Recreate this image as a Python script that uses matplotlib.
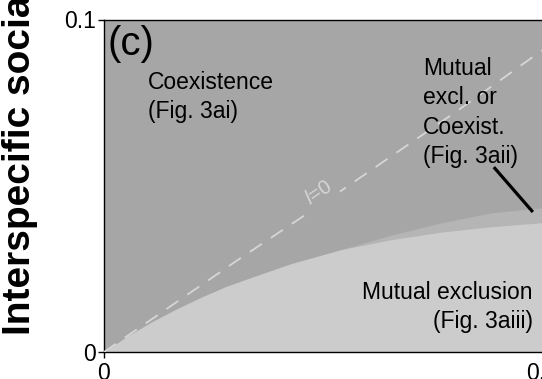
import matplotlib
matplotlib.use("Agg")
import matplotlib.pyplot as plt

plt.rcParams['font.family'] = ['Liberation Sans', 'DejaVu Sans']
plt.rcParams['mathtext.fontset'] = 'custom'
plt.rcParams['mathtext.it'] = 'Liberation Sans:italic'
plt.rcParams['mathtext.rm'] = 'Liberation Sans'

# ---- data ----
boundary_x = [0.0, 0.005, 0.0105, 0.0163, 0.022, 0.0276, 0.0335, 0.0427, 0.0541,
              0.0656, 0.0771, 0.0885, 0.1000]
exclusion_top = [0.0, 0.0045, 0.0088, 0.0128, 0.0164, 0.0196, 0.0224, 0.0266, 0.0308,
                 0.0338, 0.0361, 0.0377, 0.0389]
band_x = [0.0541, 0.0656, 0.0771, 0.0885, 0.1000]
band_top = [0.0308, 0.0352, 0.0389, 0.0419, 0.0434]
l0_x = [0.0, 0.0312, 0.0511, 0.0800, 0.1000]
l0_y = [0.0, 0.0283, 0.0458, 0.0720, 0.0908]
pointer_x = [0.0889, 0.0978]
pointer_y = [0.0556, 0.0421]
xticks = [0.0, 0.1]
xtick_labels = ['0', '0.1']
yticks = [0.0, 0.1]
ytick_labels = ['0', '0.1']

dark = '#a6a6a6'
mid = '#b5b5b5'
light = '#cccccc'
dash_col = '#d6d6d6'

W, H = 542, 379
fig = plt.figure(figsize=(W / 100, H / 100), dpi=100)
left_px, right_px, top_px, bot_px = 104, 542.5, 19.5, 352
ax = fig.add_axes([left_px / W, (H - bot_px) / H, (right_px - left_px) / W, (bot_px - top_px) / H])
ax.set_facecolor(dark)

ax.fill_between(band_x, 0, band_top, color=mid, lw=0, zorder=1)
ax.fill_between(boundary_x, 0, exclusion_top, color=light, lw=0, zorder=2)
ax.plot(l0_x, l0_y, color=dash_col, lw=1.3, dashes=(8, 6), zorder=3)
ax.text(0.0490, 0.0478, r'$\mathit{l}$=0', color=dash_col, fontsize=14.5, rotation=34,
        ha='center', va='center', zorder=4,
        bbox=dict(boxstyle='square,pad=0.2', fc=dark, ec='none'))
ax.plot(pointer_x, pointer_y, color='black', lw=2.3, solid_capstyle='butt', zorder=5)

ax.set_xlim(0, 0.1)
ax.set_ylim(0, 0.1)
ax.set_xticks(xticks)
ax.set_xticklabels(xtick_labels)
ax.set_yticks(yticks)
ax.set_yticklabels(ytick_labels)
ax.tick_params(axis='both', direction='out', length=4.5, width=1, labelsize=16.5, pad=1.5)
ax.tick_params(axis='x', pad=2.5)
for s in ax.spines.values():
    s.set_linewidth(1.0)
    s.set_color('black')

def fx(px):
    return (px - left_px) / (right_px - left_px)

def fy(py):
    return (bot_px - py) / (bot_px - top_px)

ax.text(fx(107), fy(25), '(c)', transform=ax.transAxes, fontsize=29, ha='left', va='top', zorder=6)
ax.text(fx(148), fy(71), 'Coexistence\n(Fig. 3ai)', transform=ax.transAxes, fontsize=16.5,
        ha='left', va='top', zorder=6, linespacing=1.36)
ax.text(fx(423), fy(57), 'Mutual\nexcl. or\nCoexist.\n(Fig. 3aii)', transform=ax.transAxes,
        fontsize=16.5, ha='left', va='top', zorder=6, linespacing=1.36)
ax.text(fx(533), fy(333), 'Mutual exclusion\n(Fig. 3aiii)', transform=ax.transAxes,
        fontsize=16.5, ha='right', va='bottom', multialignment='right', zorder=6, linespacing=1.36)

fig.text(2 / W, (H - 335) / H, 'Interspecific social learning', rotation=90, fontsize=28,
         fontweight='bold', ha='left', va='bottom')

fig.savefig('out.png', dpi=100)
